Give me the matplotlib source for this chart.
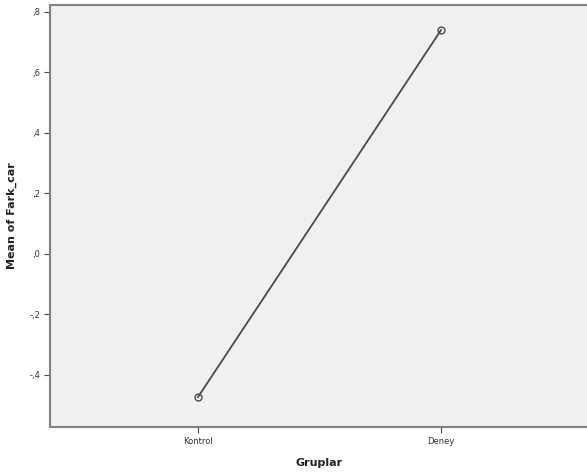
import matplotlib
matplotlib.use("Agg")
import matplotlib.pyplot as plt
from matplotlib.ticker import FuncFormatter

groups = ["Kontrol", "Deney"]
means = [-0.473, 0.740]
yticks = [-0.4, -0.2, 0.0, 0.2, 0.4, 0.6, 0.8]


def comma_fmt(v, pos):
    s = f"{v:.1f}".replace(".", ",")
    if s.startswith("0,"):
        s = s[1:]
    elif s.startswith("-0,"):
        s = "-" + s[2:]
    return s


fig = plt.figure(figsize=(5.87, 4.75), dpi=100)
ax = fig.add_axes([50 / 587, 1 - 427 / 475, 539 / 587, 422 / 475])
ax.set_facecolor("#f0f0f0")

x = list(range(len(groups)))
ax.plot(x, means, color="#4a4a4a", lw=1.3, marker="o", ms=5,
        mfc="none", mec="#4a4a4a", mew=1.0)

ax.set_xlim(-0.609, 1.609)
ax.set_ylim(-0.572, 0.823)
ax.set_xticks(x)
ax.set_xticklabels(groups)
ax.set_yticks(yticks)
ax.yaxis.set_major_formatter(FuncFormatter(comma_fmt))

for s in ax.spines.values():
    s.set_color("#808080")
    s.set_linewidth(1.5)

ax.tick_params(axis="both", direction="out", length=4, width=0.8,
               color="#444444", labelsize=6, labelcolor="#333333", pad=3)

ax.set_ylabel("Mean of Fark_car", fontsize=8, fontweight="bold", color="#222222")
ax.yaxis.set_label_coords(-0.062, 0.5)
ax.set_xlabel("Gruplar", fontsize=8, fontweight="bold", color="#222222", labelpad=9)

fig.savefig("out.png", dpi=100)
